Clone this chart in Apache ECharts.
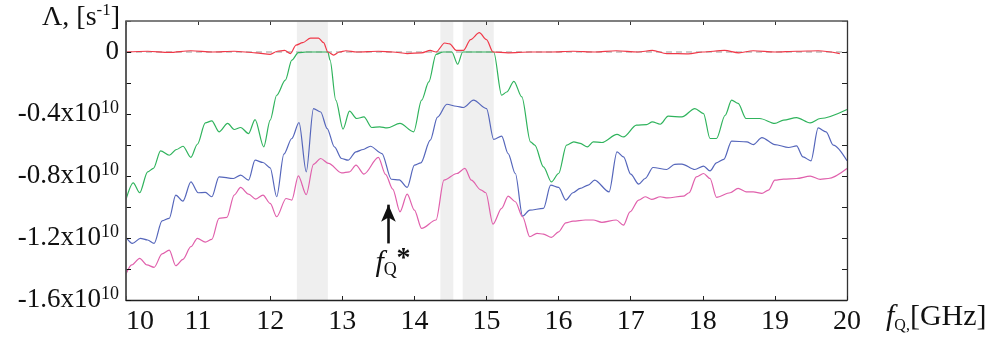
<!DOCTYPE html>
<html><head><meta charset="utf-8">
<script src="https://cdn.jsdelivr.net/npm/echarts@6/dist/echarts.min.js"></script>
<style>html,body{margin:0;padding:0;background:#fff}#c{width:1003px;height:342px}</style>
</head><body><div id="c"></div>
<script>
// Axis ranges / ticks (GHz and units of 1e10 s^-1)
const xMin = 10, xMax = 20, xStep = 1;
const yMin = -1.6, yMax = 0.2, yStep = 0.2;
// Shaded frequency bands [GHz]
const bands = [[12.37, 12.80], [14.36, 14.54], [14.67, 15.10]];
// Marked frequency f_Q*
const fStar = 13.64;
const arrowFrom = -1.235, arrowTo = -0.985;

// Series: [f (GHz), Lambda (x1e10 s^-1)]
const redSeries = [[10.0,0],[10.3,0.005],[10.6,-0.003],[10.9,0.008],[11.2,0],[11.5,0.005],[11.8,-0.005],[12.0,-0.015],[12.1,0.005],[12.2,0.01],[12.28,-0.01],[12.36,0.045],[12.45,0.06],[12.56,0.09],[12.67,0.09],[12.74,0.06],[12.8,0.0],[12.88,-0.02],[12.96,0.0],[13.05,0.008],[13.2,0],[13.5,0.005],[13.7,0],[13.9,-0.01],[14.1,-0.005],[14.22,0.01],[14.3,0.0],[14.42,0.058],[14.49,0.052],[14.58,0.01],[14.68,0.01],[14.78,0.08],[14.9,0.125],[15.0,0.08],[15.09,0.0],[15.3,-0.005],[15.6,0],[15.9,0],[16.2,0.005],[16.5,0],[16.8,0.008],[17.1,0],[17.3,0.01],[17.5,-0.01],[17.8,-0.012],[18.0,0],[18.3,0.01],[18.5,-0.005],[18.7,0.008],[19.0,0],[19.3,0.005],[19.6,0.008],[19.9,-0.01]];

const greenSeries = [[10.00,-0.951],[10.10,-0.844],[10.19,-0.908],[10.30,-0.773],[10.38,-0.751],[10.48,-0.638],[10.60,-0.666],[10.70,-0.629],[10.79,-0.608],[10.90,-0.680],[10.99,-0.595],[11.10,-0.457],[11.19,-0.444],[11.29,-0.515],[11.41,-0.461],[11.50,-0.500],[11.59,-0.487],[11.70,-0.526],[11.79,-0.436],[11.91,-0.612],[12.00,-0.440],[12.09,-0.279],[12.21,-0.182],[12.30,-0.053],[12.39,-0.004],[12.50,0],[12.65,0],[12.80,0],[12.83,-0.053],[12.91,-0.311],[13.01,-0.498],[13.10,-0.382],[13.20,-0.429],[13.30,-0.419],[13.41,-0.487],[13.52,-0.483],[13.62,-0.490],[13.80,-0.461],[13.99,-0.515],[14.10,-0.311],[14.20,-0.193],[14.30,-0.015],[14.40,0],[14.52,0],[14.60,-0.079],[14.67,0],[14.85,0],[15.10,0],[15.21,-0.279],[15.28,-0.258],[15.38,-0.189],[15.49,-0.290],[15.61,-0.580],[15.67,-0.601],[15.79,-0.741],[15.90,-0.838],[16.00,-0.784],[16.11,-0.601],[16.21,-0.580],[16.30,-0.590],[16.40,-0.612],[16.48,-0.580],[16.60,-0.584],[16.81,-0.532],[16.90,-0.548],[17.08,-0.472],[17.22,-0.468],[17.30,-0.451],[17.41,-0.466],[17.52,-0.414],[17.71,-0.419],[17.89,-0.365],[18.01,-0.397],[18.10,-0.558],[18.19,-0.558],[18.31,-0.408],[18.40,-0.311],[18.49,-0.332],[18.60,-0.429],[18.79,-0.429],[19.00,-0.461],[19.12,-0.440],[19.30,-0.423],[19.49,-0.457],[19.63,-0.429],[20.00,-0.371]];

const blueSeries = [[10.00,-1.196],[10.09,-1.235],[10.20,-1.202],[10.30,-1.213],[10.39,-1.235],[10.50,-1.089],[10.60,-1.073],[10.69,-0.923],[10.79,-0.962],[10.90,-0.838],[11.00,-0.908],[11.10,-0.906],[11.19,-0.934],[11.29,-0.805],[11.49,-0.816],[11.59,-0.794],[11.70,-0.827],[11.79,-0.698],[11.90,-0.713],[12.00,-0.747],[12.09,-0.934],[12.19,-0.659],[12.30,-0.558],[12.40,-0.455],[12.50,-0.773],[12.60,-0.365],[12.70,-0.387],[12.79,-0.494],[12.89,-0.612],[12.99,-0.687],[13.08,-0.698],[13.19,-0.644],[13.29,-0.629],[13.39,-0.608],[13.55,-0.655],[13.68,-0.821],[13.79,-0.825],[13.90,-0.874],[14.00,-0.730],[14.09,-0.715],[14.22,-0.569],[14.32,-0.420],[14.45,-0.337],[14.58,-0.350],[14.68,-0.358],[14.82,-0.311],[15.00,-0.365],[15.10,-0.564],[15.21,-0.543],[15.30,-0.655],[15.40,-0.784],[15.50,-1.059],[15.60,-1.020],[15.79,-1.009],[15.89,-0.859],[16.00,-0.874],[16.10,-0.955],[16.20,-0.908],[16.30,-0.880],[16.41,-0.859],[16.50,-0.827],[16.70,-0.902],[16.81,-0.644],[16.90,-0.677],[17.00,-0.788],[17.11,-0.852],[17.20,-0.816],[17.31,-0.745],[17.50,-0.758],[17.61,-0.725],[17.71,-0.723],[17.89,-0.758],[18.01,-0.736],[18.10,-0.767],[18.19,-0.715],[18.29,-0.693],[18.40,-0.575],[18.61,-0.580],[18.70,-0.597],[18.82,-0.552],[19.00,-0.597],[19.19,-0.616],[19.30,-0.606],[19.39,-0.677],[19.50,-0.702],[19.60,-0.490],[19.71,-0.515],[19.81,-0.601],[20.00,-0.702]];

const pinkSeries = [[10.00,-1.432],[10.08,-1.374],[10.19,-1.331],[10.29,-1.374],[10.39,-1.389],[10.50,-1.303],[10.60,-1.278],[10.69,-1.379],[10.79,-1.338],[10.90,-1.256],[10.99,-1.202],[11.10,-1.226],[11.19,-1.209],[11.29,-1.073],[11.40,-1.067],[11.50,-0.923],[11.59,-0.874],[11.70,-0.917],[11.80,-0.949],[11.90,-0.923],[12.00,-0.977],[12.09,-1.063],[12.22,-0.945],[12.30,-0.955],[12.39,-0.799],[12.50,-0.920],[12.60,-0.725],[12.70,-0.687],[12.81,-0.719],[12.99,-0.780],[13.10,-0.773],[13.19,-0.730],[13.30,-0.788],[13.50,-0.680],[13.60,-0.790],[13.70,-0.885],[13.80,-1.031],[13.90,-0.917],[14.00,-1.020],[14.10,-1.138],[14.30,-1.084],[14.41,-0.827],[14.59,-0.784],[14.70,-0.751],[14.79,-0.827],[14.92,-0.889],[14.99,-0.908],[15.09,-1.110],[15.21,-1.009],[15.30,-0.930],[15.40,-0.966],[15.50,-1.063],[15.60,-1.192],[15.70,-1.170],[15.79,-1.175],[15.90,-1.196],[16.00,-1.160],[16.10,-1.102],[16.20,-1.091],[16.37,-1.084],[16.48,-1.084],[16.60,-1.099],[16.80,-1.084],[16.90,-1.117],[16.99,-1.031],[17.11,-0.955],[17.20,-0.934],[17.29,-0.951],[17.41,-0.934],[17.51,-0.941],[17.73,-0.930],[17.81,-0.908],[17.91,-0.805],[18.01,-0.784],[18.10,-0.816],[18.19,-0.938],[18.38,-0.908],[18.49,-0.880],[18.60,-0.902],[18.70,-0.902],[18.82,-0.912],[18.91,-0.891],[19.00,-0.827],[19.12,-0.820],[19.30,-0.816],[19.49,-0.801],[19.63,-0.822],[19.74,-0.816],[20.00,-0.751]];

const zeroLine = [[xMin, 0], [xMax, 0]];

const FONT = "'Liberation Serif', 'Times New Roman', serif";
const chart = echarts.init(document.getElementById('c'), null, {renderer: 'canvas'});

function yLabel(v) {
  const k = Math.round(v * 10);
  if (k === 0) return '{m|0}';
  if (k % 4 !== 0) return '';
  return '{m|' + (k / 10).toFixed(1) + 'x10}{s|10}';
}

const lineCommon = {type: 'line', showSymbol: false, symbol: 'none', smooth: 0.3, smoothMonotone: 'x', z: 3};

chart.setOption({
  animation: false,
  backgroundColor: '#fff',
  textStyle: {fontFamily: FONT},
  grid: {left: 126, right: 156, top: 21, bottom: 42},
  xAxis: [
    {type: 'value', min: xMin, max: xMax, interval: xStep, position: 'bottom', z: 10,
     axisLine: {show: true, onZero: false, lineStyle: {color: '#222', width: 1.3}},
     axisTick: {show: true, inside: true, length: 4, lineStyle: {color: '#222', width: 1}},
     axisLabel: {fontFamily: FONT, fontSize: 28, color: '#111', margin: 8, alignMinLabel: 'left'},
     splitLine: {show: false}},
    {type: 'value', min: xMin, max: xMax, interval: xStep, position: 'top', z: 10,
     axisLine: {show: true, onZero: false, lineStyle: {color: '#777', width: 1.5}},
     axisTick: {show: true, inside: true, length: 4, lineStyle: {color: '#333', width: 1}},
     axisLabel: {show: false}, splitLine: {show: false}}
  ],
  yAxis: [
    {type: 'value', min: yMin, max: yMax, interval: yStep, position: 'left', z: 10,
     axisLine: {show: true, onZero: false, lineStyle: {color: '#555', width: 1.5}},
     axisTick: {show: true, inside: true, length: 5, lineStyle: {color: '#111', width: 1}},
     axisLabel: {formatter: yLabel, margin: 7, fontFamily: FONT, fontSize: 27, color: '#111',
       rich: {m: {fontFamily: FONT, fontSize: 27, color: '#111', lineHeight: 30},
              s: {fontFamily: FONT, fontSize: 18, color: '#111', verticalAlign: 'top', lineHeight: 18}}},
     splitLine: {show: false}},
    {type: 'value', min: yMin, max: yMax, interval: yStep, position: 'right', z: 10,
     axisLine: {show: true, onZero: false, lineStyle: {color: '#333', width: 1.3}},
     axisTick: {show: true, inside: true, length: 5, lineStyle: {color: '#222', width: 1}},
     axisLabel: {show: false}, splitLine: {show: false}}
  ],
  series: [
    {type: 'line', data: zeroLine, showSymbol: false, symbol: 'none', z: 2,
     lineStyle: {color: '#bdbdbd', width: 1.6, type: [6, 4]},
     markArea: {silent: true, itemStyle: {color: '#efefef'},
       data: bands.map(b => [{xAxis: b[0]}, {xAxis: b[1]}])},
     markLine: {silent: true, symbol: ['none', 'arrow'], symbolSize: [11, 17],
       lineStyle: {color: '#111', width: 2.6, type: 'solid'}, label: {show: false},
       data: [[{coord: [fStar, arrowFrom]}, {coord: [fStar, arrowTo]}]]}},
    Object.assign({}, lineCommon, {name: 'g', data: greenSeries, lineStyle: {color: '#2fb35c', width: 1.2}}),
    Object.assign({}, lineCommon, {name: 'b', data: blueSeries, lineStyle: {color: '#5566bb', width: 1.2}}),
    Object.assign({}, lineCommon, {name: 'p', data: pinkSeries, lineStyle: {color: '#e060ac', width: 1.2}}),
    Object.assign({}, lineCommon, {name: 'r', data: redSeries, lineStyle: {color: '#f03848', width: 1.2}, z: 4})
  ]
});

const p = chart.convertToPixel({gridIndex: 0}, [fStar, arrowFrom]);
const tl = chart.convertToPixel({gridIndex: 0}, [xMin, yMax]);
const bl = chart.convertToPixel({gridIndex: 0}, [xMin, yMin]);
const tr = chart.convertToPixel({gridIndex: 0}, [xMax, yMax]);
chart.setOption({
  graphic: [
    {type: 'line', z: 100, shape: {x1: tl[0], y1: tl[1], x2: tr[0], y2: tr[1]}, style: {stroke: '#777', lineWidth: 1.5}},
    {type: 'line', z: 100, shape: {x1: tl[0], y1: tl[1], x2: bl[0], y2: bl[1]}, style: {stroke: '#555', lineWidth: 1.6}},
    {type: 'text', left: 42, top: 2, style: {
      text: '{a|Λ, [s}{b|-1}{a|]}', fill: '#111',
      rich: {a: {fontFamily: FONT, fontSize: 28, lineHeight: 32}, b: {fontFamily: FONT, fontSize: 17, verticalAlign: 'top', lineHeight: 17}}}},
    {type: 'text', left: 886, top: 302, style: {
      text: '{f|f}{q|Q,}{g|[GHz]}', fill: '#111',
      rich: {f: {fontFamily: FONT, fontSize: 30, fontStyle: 'italic', lineHeight: 34},
             q: {fontFamily: FONT, fontSize: 16, verticalAlign: 'bottom', lineHeight: 28},
             g: {fontFamily: FONT, fontSize: 30, lineHeight: 34}}}},
    {type: 'text', x: p[0] - 13, y: p[1] + 4, style: {
      text: '{f|f}{q|Q}', fill: '#111',
      rich: {f: {fontFamily: FONT, fontSize: 30, fontStyle: 'italic', lineHeight: 32},
             q: {fontFamily: FONT, fontSize: 18, verticalAlign: 'bottom', lineHeight: 24}}}},
    {type: 'text', x: p[0] + 8, y: p[1] + 1, style: {text: '*', fill: '#111', fontFamily: FONT, fontSize: 28, fontWeight: 'bold'}}
  ]
});
</script></body></html>
